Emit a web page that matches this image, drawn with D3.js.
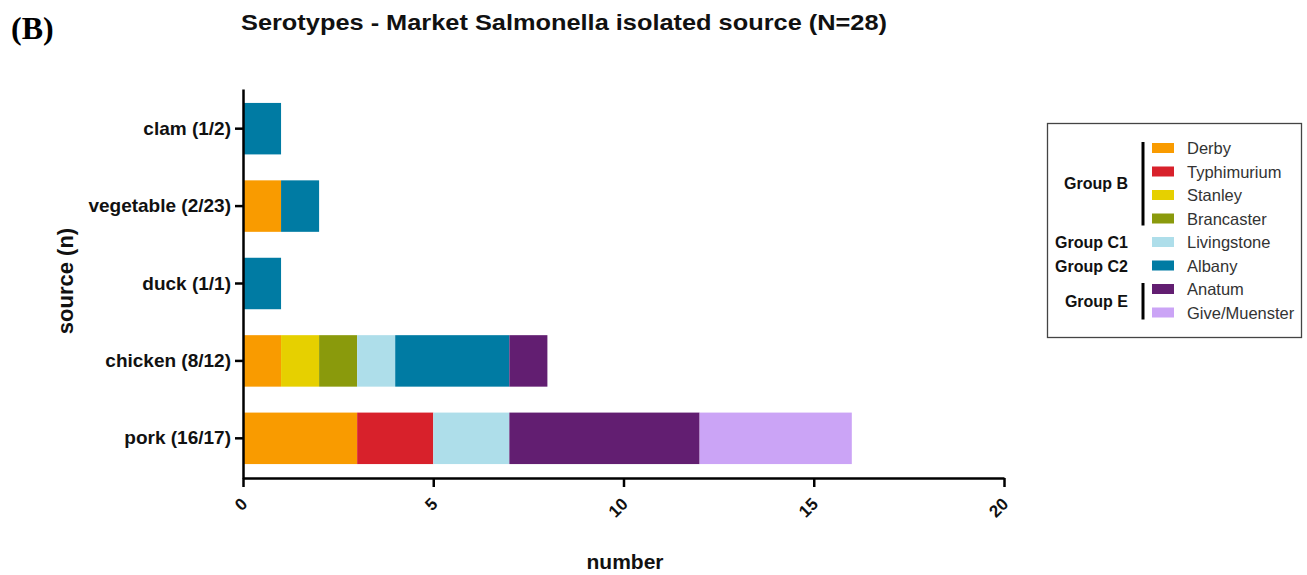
<!DOCTYPE html>
<html>
<head>
<meta charset="utf-8">
<script src="https://cdn.jsdelivr.net/npm/d3@7"></script>
<style>
  html, body { margin: 0; padding: 0; background: #fff; }
  svg { display: block; font-family: "Liberation Sans", Arial, sans-serif; }
</style>
</head>
<body>
<svg id="chart" width="1307" height="575"></svg>
<script>
// Sources (top to bottom) with their isolate counts
const sources = ["clam (1/2)", "vegetable (2/23)", "duck (1/1)", "chicken (8/12)", "pork (16/17)"];

// Serotypes in stacking order
const serotypes = ["Derby", "Typhimurium", "Stanley", "Brancaster", "Livingstone", "Albany", "Anatum", "Give/Muenster"];
const serotypeColors = ["#F99B00", "#D8212B", "#E6D000", "#8A9A0C", "#AEDEEA", "#007BA3", "#621E71", "#CBA4F6"];

// Counts per serotype, one value per source (same order as `sources`)
const derby        = [0, 1, 0, 1, 3];
const typhimurium  = [0, 0, 0, 0, 2];
const stanley      = [0, 0, 0, 1, 0];
const brancaster   = [0, 0, 0, 1, 0];
const livingstone  = [0, 0, 0, 1, 2];
const albany       = [1, 1, 1, 3, 0];
const anatum       = [0, 0, 0, 1, 5];
const giveMuenster = [0, 0, 0, 0, 4];

const xTicks = [0, 5, 10, 15, 20];

// Serogroup brackets in the legend
const groups = [
  { label: "Group B",  from: 0, to: 3, bracket: true },
  { label: "Group C1", from: 4, to: 4, bracket: false },
  { label: "Group C2", from: 5, to: 5, bracket: false },
  { label: "Group E",  from: 6, to: 7, bracket: true }
];

const seriesValues = [derby, typhimurium, stanley, brancaster, livingstone, albany, anatum, giveMuenster];
const rows = sources.map((s, i) => {
  const r = { source: s };
  serotypes.forEach((k, j) => r[k] = seriesValues[j][i]);
  return r;
});

const svg = d3.select("#chart");
const plotLeft = 243, plotRight = 1004, plotTop = 89, plotBottom = 478;

const x = d3.scaleLinear().domain([0, 20]).range([plotLeft, plotRight]);
const y = d3.scaleBand().domain(sources).range([plotTop, plotBottom]).paddingInner(0.335).paddingOuter(0.18);
const color = d3.scaleOrdinal().domain(serotypes).range(serotypeColors);

const stacked = d3.stack().keys(serotypes)(rows);

// Stacked bars
svg.append("g")
  .selectAll("g")
  .data(stacked)
  .join("g")
  .attr("fill", d => color(d.key))
  .selectAll("rect")
  .data(d => d.filter(p => p[1] > p[0]))
  .join("rect")
  .attr("x", d => x(d[0]))
  .attr("y", d => y(d.data.source))
  .attr("width", d => x(d[1]) - x(d[0]))
  .attr("height", y.bandwidth());

// X axis
const xAxis = svg.append("g")
  .attr("transform", `translate(0,${plotBottom})`)
  .call(d3.axisBottom(x).tickValues(xTicks).tickSize(9).tickSizeOuter(0).tickFormat(d3.format("d")));
xAxis.select(".domain").attr("stroke", "#000").attr("stroke-width", 2.5);
xAxis.selectAll(".tick line").attr("stroke", "#000").attr("stroke-width", 2.5);
xAxis.selectAll(".tick text")
  .attr("font-size", 17)
  .attr("font-weight", "bold")
  .attr("fill", "#111")
  .attr("text-anchor", "end")
  .attr("y", 0)
  .attr("dy", 0)
  .attr("transform", "translate(5,27) rotate(-45)");

// Y axis
const yAxis = svg.append("g")
  .attr("transform", `translate(${plotLeft},0)`)
  .call(d3.axisLeft(y).tickSize(8).tickSizeOuter(0).tickPadding(4));
yAxis.select(".domain").attr("stroke", "#000").attr("stroke-width", 2.5);
yAxis.selectAll(".tick line").attr("stroke", "#000").attr("stroke-width", 2.5);
yAxis.selectAll(".tick text")
  .attr("font-size", 19)
  .attr("font-weight", "bold")
  .attr("fill", "#111");

// Titles
svg.append("text")
  .attr("x", 241).attr("y", 30)
  .attr("font-size", 22).attr("font-weight", "bold").attr("fill", "#111")
  .attr("textLength", 646).attr("lengthAdjust", "spacingAndGlyphs")
  .text("Serotypes - Market Salmonella isolated source (N=28)");

svg.append("text")
  .attr("x", 11).attr("y", 39)
  .attr("font-family", "'Liberation Serif', 'Times New Roman', serif")
  .attr("font-size", 32).attr("font-weight", "bold").attr("fill", "#000")
  .text("(B)");

svg.append("text")
  .attr("transform", "translate(73,281) rotate(-90)")
  .attr("text-anchor", "middle")
  .attr("font-size", 22).attr("font-weight", "bold").attr("fill", "#111")
  .text("source (n)");

svg.append("text")
  .attr("x", 625).attr("y", 569)
  .attr("text-anchor", "middle")
  .attr("font-size", 21).attr("font-weight", "bold").attr("fill", "#111")
  .text("number");

// Legend
const legend = svg.append("g");
legend.append("rect")
  .attr("x", 1047.5).attr("y", 123.5).attr("width", 254).attr("height", 214)
  .attr("fill", "#fff").attr("stroke", "#444").attr("stroke-width", 1.3);

const rowY = i => 143 + i * 23.5;
const items = legend.selectAll("g.item")
  .data(serotypes)
  .join("g")
  .attr("class", "item")
  .attr("transform", (d, i) => `translate(0,${rowY(i)})`);
items.append("rect")
  .attr("x", 1152).attr("y", 0).attr("width", 22).attr("height", 10)
  .attr("fill", d => color(d));
items.append("text")
  .attr("x", 1187).attr("y", 11)
  .attr("font-size", 16.5).attr("fill", "#333")
  .text(d => d);

groups.forEach(g => {
  const y0 = rowY(g.from), y1 = rowY(g.to) + 10;
  legend.append("text")
    .attr("x", 1128).attr("y", (y0 + y1) / 2 + 6)
    .attr("text-anchor", "end")
    .attr("font-size", 16).attr("font-weight", "bold").attr("fill", "#111")
    .text(g.label);
  if (g.bracket) {
    legend.append("line")
      .attr("x1", 1143).attr("x2", 1143)
      .attr("y1", y0 - 1).attr("y2", y1 + 2)
      .attr("stroke", "#000").attr("stroke-width", 3);
  }
});
</script>
</body>
</html>
